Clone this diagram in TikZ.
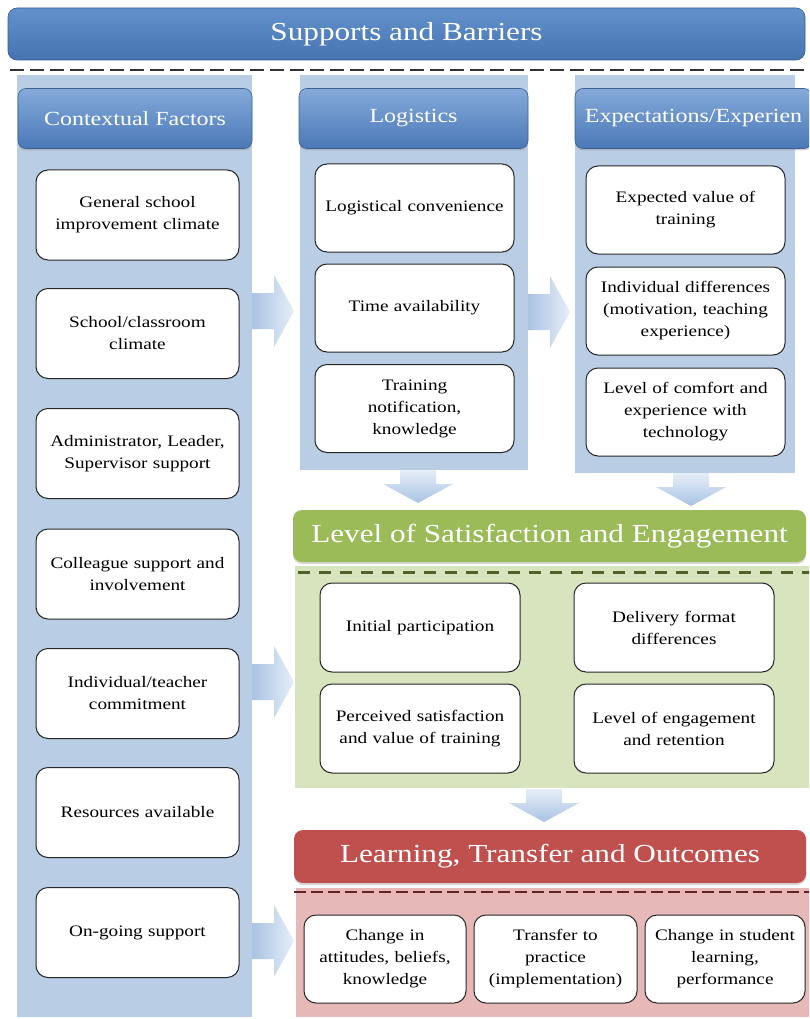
\documentclass[tikz,border=0pt]{standalone}
\usepackage{fontspec}
\setmainfont{Liberation Serif}[FakeStretch=1.2]
\usetikzlibrary{shadows}

\definecolor{bandblue}{HTML}{4F81BD}
\definecolor{bandtop}{HTML}{6391CC}
\definecolor{bandbot}{HTML}{4574B1}
\definecolor{colbg}{HTML}{B9CDE5}
\definecolor{hdrtop}{HTML}{86AADA}
\definecolor{hdrbot}{HTML}{4A78B7}
\definecolor{satgreen}{HTML}{9BBB59}
\definecolor{satbg}{HTML}{D7E4BD}
\definecolor{satdash}{HTML}{4F6228}
\definecolor{outred}{HTML}{C0504D}
\definecolor{outbg}{HTML}{E6B9B8}
\definecolor{outdash}{HTML}{632523}
\definecolor{arrowdark}{HTML}{A9C3E3}
\definecolor{arrowlight}{HTML}{E6EEF8}

\newcommand{\bodyfont}{\fontsize{16}{22}\selectfont}
\newcommand{\hdrfont}{\fontsize{20}{24}\selectfont}
\newcommand{\titlefont}{\fontsize{26}{30}\selectfont}

% horizontal block arrow: tail x, centre y
\newcommand{\rightblock}[2]{%
  \shade[left color=arrowdark, right color=arrowlight]
    (#1,#2-18) -- (#1+22,#2-18) -- (#1+22,#2-36) -- (#1+42,#2)
    -- (#1+22,#2+36) -- (#1+22,#2+18) -- (#1,#2+18) -- cycle;}
% vertical block arrow: centre x, top y
\newcommand{\downblock}[2]{%
  \shade[top color=arrowlight, bottom color=arrowdark]
    (#1-18,#2) -- (#1+18,#2) -- (#1+18,#2+14) -- (#1+35,#2+14) -- (#1,#2+33)
    -- (#1-35,#2+14) -- (#1-18,#2+14) -- cycle;}

\tikzset{
  wbox/.style={draw=black!85, line width=1pt, fill=white, rounded corners=12pt,
    align=center, font=\bodyfont, inner sep=2pt},
  leftbox/.style={wbox, minimum width=203pt, minimum height=90pt, text width=190pt},
  midbox/.style={wbox, minimum width=199pt, minimum height=88pt, text width=186pt},
  satbox/.style={wbox, minimum width=200pt, minimum height=89pt, text width=188pt},
  outbox/.style={wbox, minimum height=88pt, text width=150pt},
  colhdr/.style={rounded corners=8pt, top color=hdrtop, bottom color=hdrbot,
    draw=hdrbot!80!black, line width=0.6pt, text=white, font=\hdrfont,
    drop shadow={shadow xshift=0pt, shadow yshift=-2pt, opacity=0.35}},
  bigtitle/.style={rounded corners=9pt, text=white, font=\titlefont}
}

\begin{document}
\begin{tikzpicture}[x=1pt,y=-1pt]
\useasboundingbox (0,0) rectangle (809,1019);
\clip (0,0) rectangle (809,1019);
\fill[white] (0,0) rectangle (809,1019);

% top band
\node[bigtitle, top color=bandtop, bottom color=bandbot, draw=bandbot!80!black,
  line width=0.6pt, minimum width=797pt, minimum height=52pt] (sb) at (406.5,34) {Supports and Barriers};
\draw[black!80, line width=2.5pt, dash pattern=on 14pt off 6pt] (10,70) -- (812,70);

% column backgrounds
\fill[colbg] (17,75) rectangle (252,1017);
\fill[colbg] (300,75) rectangle (528,470);
\fill[colbg] (575,75) rectangle (795,473);

% column headers
\node[colhdr, minimum width=234pt, minimum height=60pt] (ctx) at (135,118.5) {Contextual Factors};
\node[colhdr, minimum width=229pt, minimum height=60pt] (log) at (413.5,118.5) {Logistics};
\node[colhdr, minimum width=237pt, minimum height=60pt] (exp) at (693.5,118.5) {Expectations/Experien};

% contextual factors
\node[leftbox] (c1) at (137.5,215)   {General school\\improvement climate};
\node[leftbox] (c2) at (137.5,333.5) {School/classroom\\climate};
\node[leftbox] (c3) at (137.5,453.5) {Administrator, Leader,\\Supervisor support};
\node[leftbox] (c4) at (137.5,574)   {Colleague support and\\involvement};
\node[leftbox] (c5) at (137.5,693.5) {Individual/teacher\\commitment};
\node[leftbox] (c6) at (137.5,812.5) {Resources available};
\node[leftbox] (c7) at (137.5,932.5) {On-going support};

% logistics
\node[midbox] (l1) at (414.5,208)   {Logistical convenience};
\node[midbox] (l2) at (414.5,308)   {Time availability};
\node[midbox] (l3) at (414.5,408.5) {Training\\notification,\\knowledge};

% expectations
\node[midbox] (e1) at (685.5,210) {Expected value of\\training};
\node[midbox] (e2) at (685.5,311) {Individual differences\\(motivation, teaching\\experience)};
\node[midbox] (e3) at (685.5,412) {Level of comfort and\\experience with\\technology};

% satisfaction and engagement
\fill[satbg] (295,566) rectangle (812,788);
\node[bigtitle, fill=satgreen, minimum width=513pt, minimum height=52pt,
  drop shadow={shadow xshift=0pt, shadow yshift=-2pt, opacity=0.3}] (sat) at (549.5,536) {Level of Satisfaction and Engagement};
\draw[satdash, line width=3pt, dash pattern=on 12pt off 9pt] (298,572) -- (812,572);
\node[satbox] (s1) at (420,627.5) {Initial participation};
\node[satbox] (s2) at (674,627.5) {Delivery format\\differences};
\node[satbox] (s3) at (420,728.5) {Perceived satisfaction\\and value of training};
\node[satbox] (s4) at (674,728.5) {Level of engagement\\and retention};

% learning, transfer and outcomes
\fill[outbg] (296,888) rectangle (812,1017);
\node[bigtitle, fill=outred, minimum width=512pt, minimum height=53pt,
  drop shadow={shadow xshift=0pt, shadow yshift=-2pt, opacity=0.3}] (out) at (550,856.5) {Learning, Transfer and Outcomes};
\draw[outdash, line width=1.4pt, dash pattern=on 12pt off 5pt] (294,892) -- (812,892);
\node[outbox, minimum width=162pt] (o1) at (385,959)   {Change in\\attitudes, beliefs,\\knowledge};
\node[outbox, minimum width=163pt] (o2) at (555.5,959) {Transfer to\\practice\\(implementation)};
\node[outbox, minimum width=160pt] (o3) at (725,959)   {Change in student\\learning,\\performance};

% block arrows between the groups
\rightblock{252}{311}
\rightblock{528}{312}
\rightblock{252}{682}
\rightblock{252}{941}
\downblock{418}{470}
\downblock{691}{473}
\downblock{544}{789}
\end{tikzpicture}
\end{document}
